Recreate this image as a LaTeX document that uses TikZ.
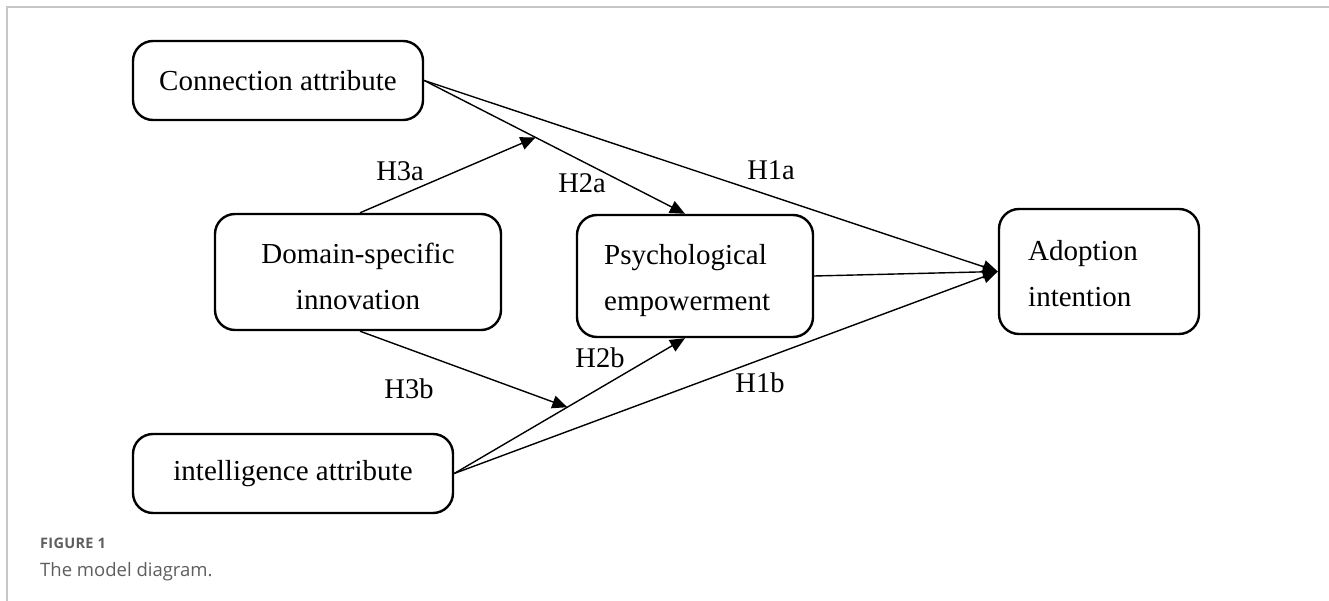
\documentclass[tikz,border=0pt]{standalone}
\usepackage{fontspec}
\setmainfont{Liberation Serif}
\newfontfamily\capfont{Open Sans}
\usetikzlibrary{arrows.meta,calc}
\definecolor{framegray}{HTML}{C6C6C6}
\definecolor{capgray}{HTML}{5E5E5E}
\tikzset{
  box/.style={draw, line width=2.4pt, rounded corners=20pt, inner sep=0pt,
    font=\fontsize{29pt}{35pt}\selectfont},
  boxtext/.style={inner sep=0pt, font=\fontsize{29pt}{35pt}\selectfont},
  conn/.style={line width=1.4pt, -{Triangle[length=15pt,width=13pt]}},
  hyp/.style={font=\fontsize{28.5pt}{34pt}\selectfont, inner sep=0pt},
}
\begin{document}
\begin{tikzpicture}[x=1pt,y=-1pt]
\useasboundingbox (0,0) rectangle (1329,601);
\draw[framegray, line width=2pt] (7,601) -- (7,7) -- (1329,7);

\node[box, minimum width=290pt, minimum height=79pt] (conn) at (278,80.5) {Connection attribute};
\node[box, minimum width=320pt, minimum height=79pt] (intel) at (293,473.5) {intelligence attribute};
\node[box, minimum width=286pt, minimum height=116pt] (dom) at (358,272) {};
\node[box, minimum width=236pt, minimum height=122pt] (psych) at (695,276) {};
\node[box, minimum width=200pt, minimum height=125pt] (adopt) at (1099,271.5) {};

\node[boxtext, anchor=base] (dom1) at (358,264) {Domain-specific};
\node[boxtext, anchor=base] (dom2) at (358,309) {innovation};
\node[boxtext, anchor=base west] (ps1) at (604,265) {Psychological};
\node[boxtext, anchor=base west] (ps2) at (604,310) {empowerment};
\node[boxtext, anchor=base west] (ad1) at (1028,261) {Adoption};
\node[boxtext, anchor=base west] (ad2) at (1028,306) {intention};

\coordinate (pt) at ($(psych.north)+(-10,0)$);
\coordinate (pb) at ($(psych.south)+(-10,0)$);
\coordinate (dt) at ($(dom.north)+(2,0)$);
\coordinate (db) at ($(dom.south)+(2,0)$);
\coordinate (m1) at ($(conn.east)!0.427!(pt)$);
\coordinate (m2) at ($(intel.east)!0.49!(pb)$);

\draw[conn] (conn.east) -- (adopt.west);
\draw[conn] (conn.east) -- (pt);
\draw[conn] (dt) -- (m1);
\draw[conn] (db) -- (m2);
\draw[conn] (intel.east) -- (pb);
\draw[conn] (intel.east) -- (adopt.west);
\draw[conn] (psych.east) -- (adopt.west);

\node[hyp] (l3a) at (400,171) {H3a};
\node[hyp] (l2a) at (582,183) {H2a};
\node[hyp] (l1a) at (771,170) {H1a};
\node[hyp] (l2b) at (600,358) {H2b};
\node[hyp] (l1b) at (760,383) {H1b};
\node[hyp] (l3b) at (409,389) {H3b};

\node[anchor=base west, inner sep=0pt, text=capgray, font=\capfont\bfseries\fontsize{14.5pt}{17pt}\selectfont\addfontfeature{LetterSpace=2}] (fig) at (40,548.5) {FIGURE 1};
\node[anchor=base west, inner sep=0pt, text=capgray, font=\capfont\fontsize{18.5pt}{22pt}\selectfont] (cap) at (40,576) {The model diagram.};
\end{tikzpicture}
\end{document}
